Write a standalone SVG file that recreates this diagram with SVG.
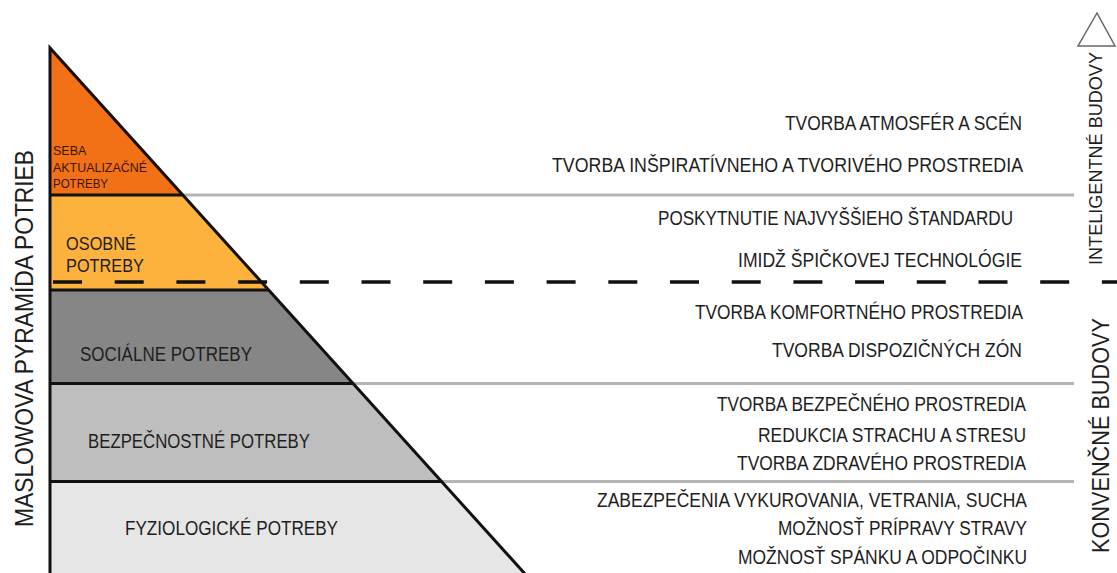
<svg xmlns="http://www.w3.org/2000/svg" width="1117" height="573" viewBox="0 0 1117 573">
<style>
text{font-family:"Liberation Sans",Arial,sans-serif;fill:#1e1e1e;}
.r{font-size:19.5px;}
.p{font-size:19.5px;}
.band{stroke:none;}
.blk{stroke:#111;stroke-width:3;fill:none;}
.sep{stroke:#b4b4b4;stroke-width:3;fill:none;}
</style>
<rect width="1117" height="573" fill="#ffffff"/>

<g id="band-seba">
<polygon class="band" points="50,48 183,195 50,195" fill="#F27116"/>
<text x="53" y="155" font-size="12.5" style="fill:#3b1600">SEBA</text>
<text x="53" y="172" font-size="12.5" textLength="94" lengthAdjust="spacingAndGlyphs" style="fill:#3b1600">AKTUALIZAČNÉ</text>
<text x="53" y="188" font-size="12.5" textLength="55" lengthAdjust="spacingAndGlyphs" style="fill:#3b1600">POTREBY</text>
</g>

<g id="band-osobne">
<polygon class="band" points="50,195 183,195 269,290 50,290" fill="#FCB23C"/>
<text x="66" y="250" font-size="18.5" textLength="70" lengthAdjust="spacingAndGlyphs">OSOBNÉ</text>
<text x="66" y="272" font-size="18.5" textLength="78" lengthAdjust="spacingAndGlyphs">POTREBY</text>
</g>

<g id="band-socialne">
<polygon class="band" points="50,290 269,290 353.6,383.5 50,383.5" fill="#868686"/>
<text class="p" x="80" y="361" textLength="172" lengthAdjust="spacingAndGlyphs">SOCIÁLNE POTREBY</text>
</g>

<g id="band-bezpecnostne">
<polygon class="band" points="50,383.5 353.6,383.5 442.3,481.5 50,481.5" fill="#BEBEBE"/>
<text class="p" x="88" y="448" textLength="222" lengthAdjust="spacingAndGlyphs">BEZPEČNOSTNÉ POTREBY</text>
</g>

<g id="band-fyziologicke">
<polygon class="band" points="50,481.5 442.3,481.5 525.1,573 50,573" fill="#E6E6E6"/>
<text class="p" x="125" y="535" textLength="213" lengthAdjust="spacingAndGlyphs">FYZIOLOGICKÉ POTREBY</text>
</g>

<g id="connectors">
<line class="sep" x1="183" y1="195" x2="1074" y2="195"/>
<line class="sep" x1="353.6" y1="383.5" x2="1074" y2="383.5"/>
<line class="sep" x1="442.3" y1="481.5" x2="1074" y2="481.5"/>
<line x1="53" y1="282" x2="1117" y2="282" stroke="#111" stroke-width="3.5" stroke-dasharray="29 32.7"/>
<line class="blk" x1="50" y1="195" x2="183" y2="195"/>
<line class="blk" x1="50" y1="290" x2="269" y2="290"/>
<line class="blk" x1="50" y1="383.5" x2="353.6" y2="383.5"/>
<line class="blk" x1="50" y1="481.5" x2="442.3" y2="481.5"/>
<polyline class="blk" points="50,575 50,48 526,575" stroke-linejoin="miter"/>
</g>

<g id="axis-left">
<text transform="translate(33,527) rotate(-90)" font-size="25" textLength="377" lengthAdjust="spacingAndGlyphs">MASLOWOVA PYRAMÍDA POTRIEB</text>
</g>

<g id="axis-right">
<polygon points="1097,13 1078,46 1115,46" fill="#ffffff" stroke="#666" stroke-width="1.5"/>
<text transform="translate(1102,265) rotate(-90)" font-size="18.5" textLength="213" lengthAdjust="spacingAndGlyphs">INTELIGENTNÉ BUDOVY</text>
<text transform="translate(1109,553) rotate(-90)" font-size="24" textLength="235" lengthAdjust="spacingAndGlyphs">KONVENČNÉ BUDOVY</text>
</g>

<g id="features-seba">
<text class="r" x="785" y="130" textLength="237" lengthAdjust="spacingAndGlyphs">TVORBA ATMOSFÉR A SCÉN</text>
<text class="r" x="552" y="172" textLength="471" lengthAdjust="spacingAndGlyphs">TVORBA INŠPIRATÍVNEHO A TVORIVÉHO PROSTREDIA</text>
</g>
<g id="features-osobne">
<text class="r" x="658" y="225" textLength="355" lengthAdjust="spacingAndGlyphs">POSKYTNUTIE NAJVYŠŠIEHO ŠTANDARDU</text>
<text class="r" x="738" y="267" textLength="284" lengthAdjust="spacingAndGlyphs">IMIDŽ ŠPIČKOVEJ TECHNOLÓGIE</text>
</g>
<g id="features-socialne">
<text class="r" x="695" y="319" textLength="328" lengthAdjust="spacingAndGlyphs">TVORBA KOMFORTNÉHO PROSTREDIA</text>
<text class="r" x="772" y="357" textLength="250" lengthAdjust="spacingAndGlyphs">TVORBA DISPOZIČNÝCH ZÓN</text>
</g>
<g id="features-bezpecnostne">
<text class="r" x="717" y="411" textLength="309" lengthAdjust="spacingAndGlyphs">TVORBA BEZPEČNÉHO PROSTREDIA</text>
<text class="r" x="758" y="442" textLength="268" lengthAdjust="spacingAndGlyphs">REDUKCIA STRACHU A STRESU</text>
<text class="r" x="737" y="470" textLength="289" lengthAdjust="spacingAndGlyphs">TVORBA ZDRAVÉHO PROSTREDIA</text>
</g>
<g id="features-fyziologicke">
<text class="r" x="597" y="507" textLength="430" lengthAdjust="spacingAndGlyphs">ZABEZPEČENIA VYKUROVANIA, VETRANIA, SUCHA</text>
<text class="r" x="778" y="535" textLength="249" lengthAdjust="spacingAndGlyphs">MOŽNOSŤ PRÍPRAVY STRAVY</text>
<text class="r" x="738" y="564" textLength="289" lengthAdjust="spacingAndGlyphs">MOŽNOSŤ SPÁNKU A ODPOČINKU</text>
</g>
</svg>
